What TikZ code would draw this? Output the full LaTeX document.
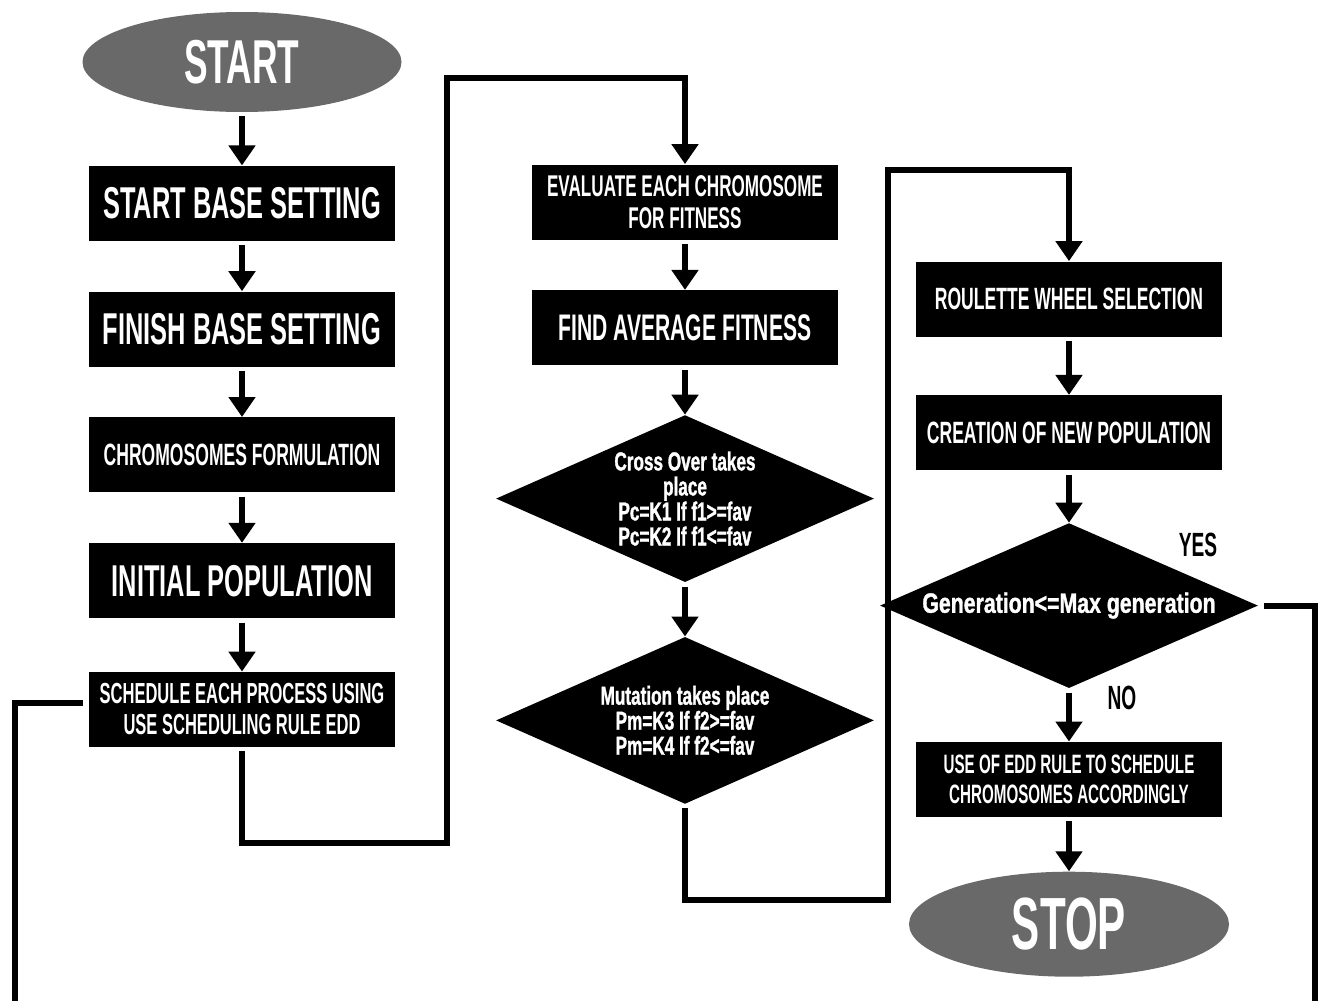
\documentclass[tikz,border=0pt]{standalone}
\usepackage{xcolor}
\usepackage{fontspec}
\usepackage{tikz}
\usetikzlibrary{shapes.geometric, arrows.meta, positioning}
\newfontfamily\boxfont{Liberation Sans}[FakeStretch=0.57]
\newfontfamily\diafont{Liberation Sans}[FakeStretch=0.66, FakeBold=1.2]
\newfontfamily\genfont{Liberation Sans}[FakeStretch=0.76, FakeBold=1.2]
\definecolor{termgray}{RGB}{105,105,105}

\begin{document}
\begin{tikzpicture}[x=0.5pt, y=-0.5pt, node distance=25pt, auto]

    \useasboundingbox (0,0) rectangle (1324,1001);

    % Define style for boxes
    \tikzstyle{term} = [ellipse, minimum width=159.5pt, minimum height=50pt, inner sep=0pt, fill=termgray, text=white]
    \tikzstyle{proc} = [rectangle, minimum width=153pt, minimum height=37.5pt, inner sep=0pt, fill=black, text=white, align=center]
    \tikzstyle{decide} = [diamond, aspect=2.26, minimum width=189pt, minimum height=83.5pt, inner sep=0pt, fill=black, text=white, align=center, font=\diafont\bfseries\fontsize{13}{12.5}\selectfont]
    \tikzstyle{bigtxt} = [font=\boxfont\bfseries\fontsize{22.3}{24}\selectfont]
    \tikzstyle{midtxt} = [font=\boxfont\bfseries\fontsize{15.4}{16}\selectfont]
    \tikzstyle{smalltxt} = [font=\boxfont\bfseries\fontsize{14.5}{15.5}\selectfont]
    \tikzstyle{answer} = [font=\boxfont\bfseries\fontsize{16.8}{17}\selectfont, inner sep=0pt]
    \tikzstyle{flow} = [line width=3pt, -{Triangle[width=13pt,length=10pt]}, shorten <=2pt]
    \tikzstyle{link} = [line width=3pt, shorten <=3pt]

    % Nodes
    \node (start) [term, font=\boxfont\bfseries\fontsize{31}{31}\selectfont] at (242,62) {START};
    \node (sbs) [proc, bigtxt, below=26.5pt of start] {START BASE SETTING};
    \node (fbs) [proc, bigtxt, below=of sbs] {FINISH BASE SETTING};
    \node (chrom) [proc, midtxt, below=of fbs] {CHROMOSOMES FORMULATION};
    \node (init) [proc, bigtxt, below=of chrom] {INITIAL POPULATION};
    \node (sched) [proc, smalltxt, below=26.5pt of init] {SCHEDULE EACH PROCESS USING\\USE SCHEDULING RULE EDD};

    \node (eval) [proc, font=\boxfont\bfseries\fontsize{15}{16}\selectfont] at (685,202) {EVALUATE EACH CHROMOSOME\\FOR FITNESS};
    \node (avg) [proc, font=\boxfont\bfseries\fontsize{18.5}{19}\selectfont, below=of eval] {FIND AVERAGE FITNESS};
    \node (cross) [decide, below=24.5pt of avg] {Cross Over takes\\place\\Pc=K1 If f1>=fav\\Pc=K2 If f1<=fav};
    \node (mut) [decide, below=27pt of cross] {Mutation takes place\\Pm=K3 If f2>=fav\\Pm=K4 If f2<=fav};

    \node (roul) [proc, midtxt] at (1069,299) {ROULETTE WHEEL SELECTION};
    \node (newpop) [proc, midtxt, below=29pt of roul] {CREATION OF NEW POPULATION};
    \node (gen) [decide, minimum height=82.5pt, font=\genfont\bfseries\fontsize{14}{14}\selectfont, below=26pt of newpop] {Generation<=Max generation};
    \node (edd) [proc, font=\boxfont\bfseries\fontsize{13.3}{15}\selectfont, below=26.5pt of gen] {USE OF EDD RULE TO SCHEDULE\\CHROMOSOMES ACCORDINGLY};
    \node (stop) [term, minimum width=160pt, minimum height=52.5pt, font=\boxfont\bfseries\fontsize{37}{37}\selectfont, below=27pt of edd] {STOP};

    \node (yes) [answer] at (1198,545) {YES};
    \node (no) [answer] at (1122,698) {NO};

    \coordinate (loopa) at (447,843);
    \coordinate (loopb) at (447,78);
    \coordinate (loopc) at (888,900);
    \coordinate (loopd) at (888,170);
    \coordinate (leftend) at (15,1001);
    \coordinate (rightend) at (1315,1001);

    % Lines
    \draw[flow] (start) -- (sbs);
    \draw[flow] (sbs) -- (fbs);
    \draw[flow] (fbs) -- (chrom);
    \draw[flow] (chrom) -- (init);
    \draw[flow] (init) -- (sched);
    \draw[flow] (sched.south) |- (loopa) -- (loopb) -| (eval.north);

    \draw[flow] (eval) -- (avg);
    \draw[flow] (avg) -- (cross);
    \draw[flow] (cross) -- (mut);
    \draw[flow] (mut.south) |- (loopc) -- (loopd) -| (roul.north);

    \draw[flow] (roul) -- (newpop);
    \draw[flow] (newpop) -- (gen);
    \draw[flow] (gen) -- (edd);
    \draw[flow] (edd) -- (stop);

    \draw[link] ([yshift=3.5pt]sched.west) -| (leftend);
    \draw[link] (gen.east) -| (rightend);

\end{tikzpicture}
\end{document}
